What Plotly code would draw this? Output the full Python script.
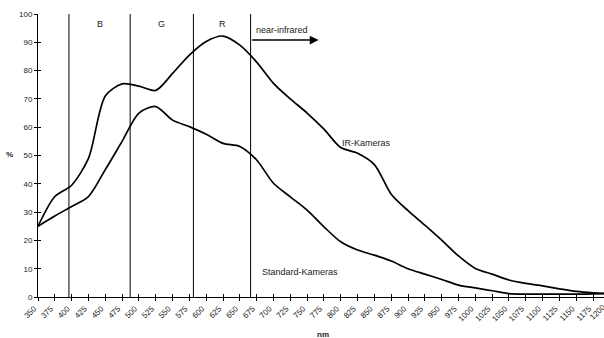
import plotly.graph_objects as go

# ---- data ----
wavelength_nm = list(range(350, 1201, 25))
ir_kameras = [25, 35.5, 39.5, 49, 71, 75.3, 74.5, 73, 79, 85.5, 90.3, 92.2, 89, 83,
              75.5, 70, 65, 59.3, 52.8, 50.8, 46.8, 36.3, 30.5, 25.4, 20.1, 14.5, 10.1,
              8.1, 6, 4.8, 3.9, 2.9, 2.0, 1.5, 1.2]
standard_kameras = [25, 28.6, 32, 35.5, 45, 55, 65, 67.3, 62.5, 60.2, 57.5, 54.3, 53.2,
                    48.4, 40.2, 35.4, 30.7, 24.8, 19.5, 16.6, 14.8, 12.7, 10, 8.1, 6.2,
                    4.2, 3.2, 2.2, 1.2, 1.0, 1.0, 1.0, 1.0, 1.1, 1.2]
tick_labels = [str(v) for v in wavelength_nm]
band_edges = [396, 487, 581, 666]
band_labels = ["B", "G", "R"]
nir_label = "near-infrared"
nir_arrow_end = 767
series_names = ["IR-Kameras", "Standard-Kameras"]
series_label_pos = [(838, 54.3), (739, 8.9)]

FONT = "Liberation Sans, Arial, sans-serif"
X_RANGE = [350, 350 + 566 / 0.6728]
LABEL_SHIFT = -4

fig = go.Figure()
for name, vals in zip(series_names, [ir_kameras, standard_kameras]):
    fig.add_trace(go.Scatter(x=wavelength_nm, y=vals, mode="lines", name=name,
                             line=dict(color="black", width=1.7, shape="spline", smoothing=0.8),
                             hoverinfo="skip", cliponaxis=True))
# invisible trace for the overlay axes (inside ticks)
fig.add_trace(go.Scatter(x=[350], y=[0], xaxis="x2", yaxis="y2", mode="markers",
                         marker=dict(opacity=0), hoverinfo="skip", showlegend=False))

for e in band_edges:
    fig.add_shape(type="line", xref="x", yref="y", x0=e, x1=e, y0=0, y1=100,
                  line=dict(color="black", width=1))

ann_font = dict(family=FONT, size=9, color="#222")
for i, lab in enumerate(band_labels):
    fig.add_annotation(x=(band_edges[i] + band_edges[i + 1]) / 2, y=96.3, xref="x", yref="y",
                       text=lab, showarrow=False, font=ann_font,
                       xanchor="center", yanchor="middle")

fig.add_annotation(x=713, y=94.4, xref="x", yref="y", text=nir_label, showarrow=False,
                   font=ann_font, xanchor="center", yanchor="middle")
fig.add_annotation(x=nir_arrow_end, y=90.8, ax=band_edges[-1], ay=90.8, xref="x", yref="y",
                   axref="x", ayref="y", text="", showarrow=True, arrowhead=2,
                   arrowsize=1.1, arrowwidth=1.6, arrowcolor="black")

for name, (px, py) in zip(series_names, series_label_pos):
    fig.add_annotation(x=px, y=py, xref="x", yref="y", text=name, showarrow=False,
                       font=ann_font, xanchor="center", yanchor="middle")

fig.add_annotation(x=-0.051, y=0.502, xref="paper", yref="paper", text="<b>%</b>",
                   showarrow=False, font=dict(family=FONT, size=8, color="#222"),
                   xanchor="center", yanchor="middle")
fig.add_annotation(x=0.5035, y=-0.134, xref="paper", yref="paper", text="<b>nm</b>",
                   showarrow=False, font=dict(family=FONT, size=8, color="#222"),
                   xanchor="center", yanchor="middle")
# last tick label, cut off at the figure edge as in the original
fig.add_annotation(x=(1200 - X_RANGE[0]) / (X_RANGE[1] - X_RANGE[0]), y=-0.012,
                   xref="paper", yref="paper", text=tick_labels[-1], textangle=-45,
                   xanchor="right", yanchor="top", xshift=0, showarrow=False,
                   font=dict(family=FONT, size=8, color="#222"))

axis_common = dict(showgrid=False, zeroline=False)
fig.update_layout(
    width=604, height=338,
    margin=dict(l=38, r=0, t=14, b=41),
    paper_bgcolor="white", plot_bgcolor="white",
    showlegend=False,
    font=dict(family=FONT, size=8, color="#222"),
    xaxis=dict(range=X_RANGE, tickmode="array", tickvals=wavelength_nm, ticktext=tick_labels,
               tickangle=-45, ticks="outside", ticklen=3, tickwidth=1, tickcolor="black",
               ticklabelshift=LABEL_SHIFT,
               showline=True, linecolor="black", linewidth=1, **axis_common,
               tickfont=dict(family=FONT, size=8, color="#222")),
    yaxis=dict(range=[0, 100], dtick=10, ticks="outside", ticklen=3, tickwidth=1,
               tickcolor="black", showline=True, linecolor="black", linewidth=1,
               **axis_common, tickfont=dict(family=FONT, size=8, color="#222")),
    xaxis2=dict(range=X_RANGE, overlaying="x", anchor="y", tickmode="array",
                tickvals=wavelength_nm, ticks="inside", ticklen=3, tickwidth=1,
                tickcolor="black", showticklabels=False, showline=False, **axis_common),
    yaxis2=dict(range=[0, 100], overlaying="y", anchor="x", side="left", dtick=10,
                ticks="inside", ticklen=3, tickwidth=1, tickcolor="black",
                showticklabels=False, showline=False, **axis_common),
)

fig.write_html("out.html", config={"displayModeBar": False},
               post_script="document.body.style.margin='0';document.body.style.overflow='hidden';")
